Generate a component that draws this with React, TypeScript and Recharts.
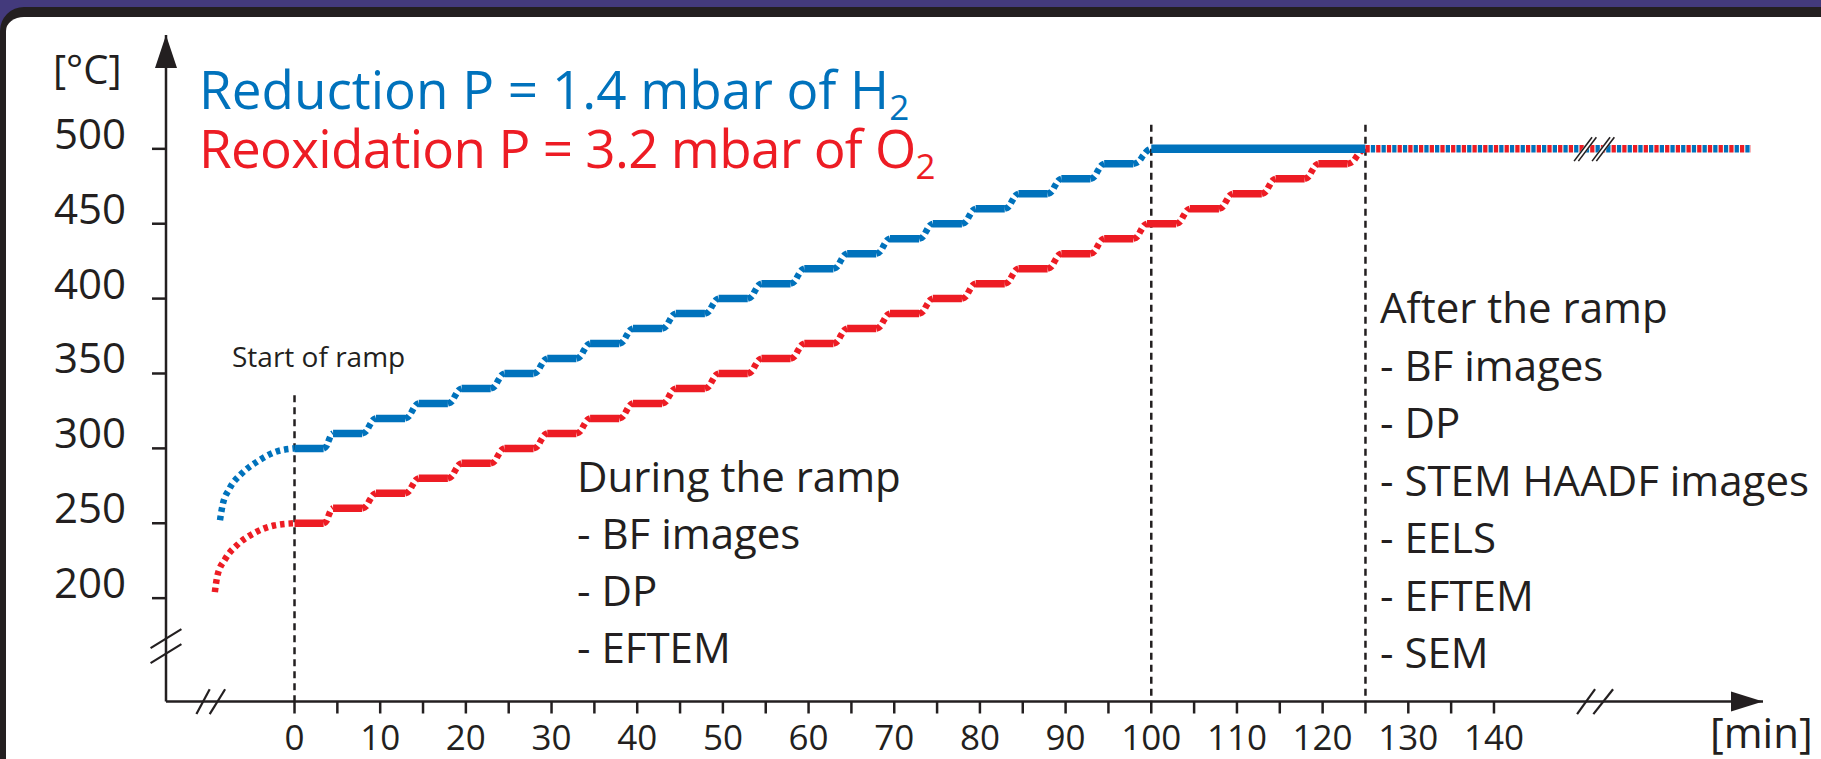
import React from "react";
import { LineChart, Line, XAxis, YAxis, ReferenceLine, ReferenceDot } from "recharts";

const W = 1821;
const H = 759;
const FONT = '"Open Sans", "Noto Sans", sans-serif';
const INK = "#231f20";
const BLUE = "#0072bc";
const RED = "#ed1c24";
const FRAME = "#433a7c";

const tempTicks = [200, 250, 300, 350, 400, 450, 500];
const minuteTicks = [0, 5, 10, 15, 20, 25, 30, 35, 40, 45, 50, 55, 60, 65, 70, 75, 80, 85, 90, 95, 100, 105, 110, 115, 120, 125, 130, 135, 140];

// minute at which each temperature plateau begins, and its level (°C)
const reductionStarts = [0, 4.5, 9.5, 14.5, 19.5, 24.5, 29.5, 34.5, 39.5, 44.5, 49.5, 54.5, 59.5, 64.5, 69.5, 74.5, 79.5, 84.5, 89.5, 94.5];
const reductionLevels = [300, 310, 320, 330, 340, 350, 360, 370, 380, 390, 400, 410, 420, 430, 440, 450, 460, 470, 480, 490];
const reoxidationStarts = [0, 4.5, 9.5, 14.5, 19.5, 24.5, 29.5, 34.5, 39.5, 44.5, 49.5, 54.5, 59.5, 64.5, 69.5, 74.5, 79.5, 84.5, 89.5, 94.5, 99.5, 104.5, 109.5, 114.5, 119.5];
const reoxidationLevels = [250, 260, 270, 280, 290, 300, 310, 320, 330, 340, 350, 360, 370, 380, 390, 400, 410, 420, 430, 440, 450, 460, 470, 480, 490];
const plateauMinutes = 3.4;

// heating up to the ramp start (minute, °C)
const reductionWarmup = [[-8.7, 252], [-8.4, 262], [-7.6, 273], [-6.2, 283], [-4.4, 291], [-2.3, 297.5], [0, 300]];
const reoxidationWarmup = [[-9.3, 204], [-9.0, 215], [-8.1, 226], [-6.6, 236], [-4.7, 243.5], [-2.4, 248.5], [0, 250]];

const holdStart = 100;
const rampEnd = 125;
const lastMinute = 170;
const finalTemp = 500;

const duringLines = ["During the ramp", "- BF images", "- DP", "- EFTEM"];
const afterLines = ["After the ramp", "- BF images", "- DP", "- STEM HAADF images", "- EELS", "- EFTEM", "- SEM"];

type Pt = { t: number; v: number | null };

// shape of the dotted rise between two plateaus (fraction of width, fraction of height)
const riseShape = [[0, 0], [0.3, 0.15], [0.55, 0.55], [0.8, 0.9], [1, 1]];

function plateaus(starts: number[], levels: number[]): Pt[] {
  const out: Pt[] = [];
  starts.forEach((s, i) => {
    out.push({ t: s, v: levels[i] }, { t: s + plateauMinutes, v: levels[i] }, { t: s + plateauMinutes + 0.05, v: null });
  });
  return out;
}

function rises(starts: number[], levels: number[], endT: number, endV: number): Pt[] {
  const out: Pt[] = [];
  starts.forEach((s, i) => {
    const t0 = s + plateauMinutes;
    const v0 = levels[i];
    const t1 = i + 1 < starts.length ? starts[i + 1] : endT;
    const v1 = i + 1 < levels.length ? levels[i + 1] : endV;
    riseShape.forEach(([ft, fv]) => out.push({ t: t0 + (t1 - t0) * ft, v: v0 + (v1 - v0) * fv }));
    out.push({ t: t1 + 0.01, v: null });
  });
  return out;
}

const toPts = (rows: number[][]): Pt[] => rows.map(([t, v]) => ({ t, v }));

const reductionFlat = plateaus(reductionStarts, reductionLevels);
const reductionRise = rises(reductionStarts, reductionLevels, holdStart, finalTemp);
const reoxidationFlat = plateaus(reoxidationStarts, reoxidationLevels);
const reoxidationRise = rises(reoxidationStarts, reoxidationLevels, rampEnd, finalTemp);
const holdLine = toPts([[holdStart, finalTemp], [rampEnd, finalTemp]]);
const afterLine = toPts([[rampEnd, finalTemp], [lastMinute, finalTemp]]);

const dotted = "5 3.5";

function TempTick({ x, y, payload }: any) {
  return (
    <text x={x} y={y} textAnchor="end" fontFamily={FONT} fontSize={42} fill={INK}>
      {payload.value}
    </text>
  );
}

function MinuteTick({ x, y, payload }: any) {
  if (payload.value % 10 !== 0) return <g />;
  return (
    <text x={x} y={y} textAnchor="middle" fontFamily={FONT} fontSize={35} fill={INK}>
      {payload.value}
    </text>
  );
}

const ArrowUp = (p: any) => (
  <polygon points={`${p.cx},${p.cy} ${p.cx - 11},${p.cy + 33} ${p.cx + 11},${p.cy + 33}`} fill={INK} />
);
const ArrowRight = (p: any) => (
  <polygon points={`${p.cx},${p.cy} ${p.cx - 32},${p.cy - 10} ${p.cx - 32},${p.cy + 10}`} fill={INK} />
);

const axisBreaks = [
  [[-16.8, 166.6], [-13.2, 179.3]],
  [[-16.8, 156.6], [-13.2, 169.3]],
  [[-11.45, 122.6], [-9.9, 139.2]],
  [[-9.9, 122.6], [-8.1, 139.2]],
  [[149.7, 122.6], [151.8, 139.2]],
  [[151.6, 122.6], [153.9, 139.2]]
];
const lineBreaks = [
  [[149.6, 491.8], [151.7, 507.8]],
  [[151.7, 491.8], [153.8, 507.8]]
];

export default function App() {
  return (
    <div style={{ position: "absolute", left: 0, top: 0, width: W, height: H, background: FRAME, overflow: "hidden" }}>
      <div
        style={{
          position: "absolute",
          left: 0,
          top: 7,
          width: W + 60,
          height: H + 60,
          background: "#fff",
          borderTop: `10px solid ${INK}`,
          borderLeft: `6px solid ${INK}`,
          borderTopLeftRadius: 24
        }}
      />
      <div style={{ position: "absolute", left: 0, top: 0 }}>
        <LineChart width={W} height={H} margin={{ top: 35, right: 58, bottom: 27.5, left: 106 }}>
          <XAxis
            type="number"
            dataKey="t"
            domain={[-15, 171.4]}
            ticks={minuteTicks}
            interval={0}
            allowDataOverflow
            height={30}
            tickSize={12}
            tickMargin={36}
            axisLine={{ stroke: INK, strokeWidth: 2.5 }}
            tickLine={{ stroke: INK, strokeWidth: 2.5 }}
            tick={MinuteTick}
          />
          <YAxis
            type="number"
            domain={[131, 576]}
            ticks={tempTicks}
            interval={0}
            allowDataOverflow
            width={60}
            tickSize={14}
            tickMargin={26}
            axisLine={{ stroke: INK, strokeWidth: 2.5 }}
            tickLine={{ stroke: INK, strokeWidth: 2.5 }}
            tick={TempTick}
          />
          <ReferenceLine segment={[{ x: 0, y: 335.5 }, { x: 0, y: 131 }]} stroke={INK} strokeWidth={2.5} strokeDasharray="7 5" ifOverflow="visible" />
          <ReferenceLine segment={[{ x: holdStart, y: 516 }, { x: holdStart, y: 131 }]} stroke={INK} strokeWidth={2.5} strokeDasharray="7 5" ifOverflow="visible" />
          <ReferenceLine segment={[{ x: rampEnd, y: 516 }, { x: rampEnd, y: 131 }]} stroke={INK} strokeWidth={2.5} strokeDasharray="7 5" ifOverflow="visible" />

          <Line data={toPts(reductionWarmup)} dataKey="v" type="monotoneX" stroke={BLUE} strokeWidth={6.5} strokeDasharray="4.5 4" dot={false} isAnimationActive={false} />
          <Line data={toPts(reoxidationWarmup)} dataKey="v" type="monotoneX" stroke={RED} strokeWidth={6.5} strokeDasharray="4.5 4" dot={false} isAnimationActive={false} />
          <Line data={reductionFlat} dataKey="v" type="linear" stroke={BLUE} strokeWidth={7.5} dot={false} isAnimationActive={false} />
          <Line data={reductionRise} dataKey="v" type="monotoneX" stroke={BLUE} strokeWidth={6.5} strokeDasharray={dotted} dot={false} isAnimationActive={false} />
          <Line data={reoxidationFlat} dataKey="v" type="linear" stroke={RED} strokeWidth={7.5} dot={false} isAnimationActive={false} />
          <Line data={reoxidationRise} dataKey="v" type="monotoneX" stroke={RED} strokeWidth={6.5} strokeDasharray={dotted} dot={false} isAnimationActive={false} />
          <Line data={holdLine} dataKey="v" type="linear" stroke={BLUE} strokeWidth={8.5} dot={false} isAnimationActive={false} />
          <Line data={afterLine} dataKey="v" type="linear" stroke={RED} strokeWidth={7.5} strokeDasharray="4.3 6.4" dot={false} isAnimationActive={false} />
          <Line data={afterLine} dataKey="v" type="linear" stroke={BLUE} strokeWidth={7.5} strokeDasharray="0 5.35 4.3 1.05" dot={false} isAnimationActive={false} />

          {axisBreaks.map(([a, b], i) => (
            <ReferenceLine key={`ab${i}`} segment={[{ x: a[0], y: a[1] }, { x: b[0], y: b[1] }]} stroke={INK} strokeWidth={2.2} ifOverflow="visible" />
          ))}
          {lineBreaks.map(([a, b], i) => (
            <ReferenceLine key={`lw${i}`} segment={[{ x: a[0], y: a[1] }, { x: b[0], y: b[1] }]} stroke="#fff" strokeWidth={5} ifOverflow="visible" />
          ))}
          {lineBreaks.flatMap(([a, b], i) =>
            [-0.25, 0.25].map((d) => (
              <ReferenceLine key={`lb${i}${d}`} segment={[{ x: a[0] + d, y: a[1] }, { x: b[0] + d, y: b[1] }]} stroke={INK} strokeWidth={1.6} ifOverflow="visible" />
            ))
          )}
          <ReferenceDot x={-15} y={576} r={1} shape={ArrowUp} ifOverflow="visible" />
          <ReferenceDot x={171.4} y={131} r={1} shape={ArrowRight} ifOverflow="visible" />
        </LineChart>
      </div>
      <svg width={W} height={H} style={{ position: "absolute", left: 0, top: 0, pointerEvents: "none" }} fontFamily={FONT} fill={INK}>
        <text x={53} y={84} fontSize={40}>[°C]</text>
        <text x={199} y={109} fontSize={53} fill={BLUE}>
          Reduction P = 1.4 mbar of H<tspan fontSize={35} dy={11}>2</tspan>
        </text>
        <text x={199} y={168} fontSize={53} fill={RED} letterSpacing={-0.7}>
          Reoxidation P = 3.2 mbar of O<tspan fontSize={35} dy={11}>2</tspan>
        </text>
        <text x={232} y={367} fontSize={28}>Start of ramp</text>
        {duringLines.map((s, i) => (
          <text key={s} x={577} y={492 + i * 57} fontSize={42}>{s}</text>
        ))}
        {afterLines.map((s, i) => (
          <text key={s} x={1380} y={323 + i * 57.5} fontSize={42}>{s}</text>
        ))}
        <text x={1710} y={748} fontSize={42}>[min]</text>
      </svg>
    </div>
  );
}
